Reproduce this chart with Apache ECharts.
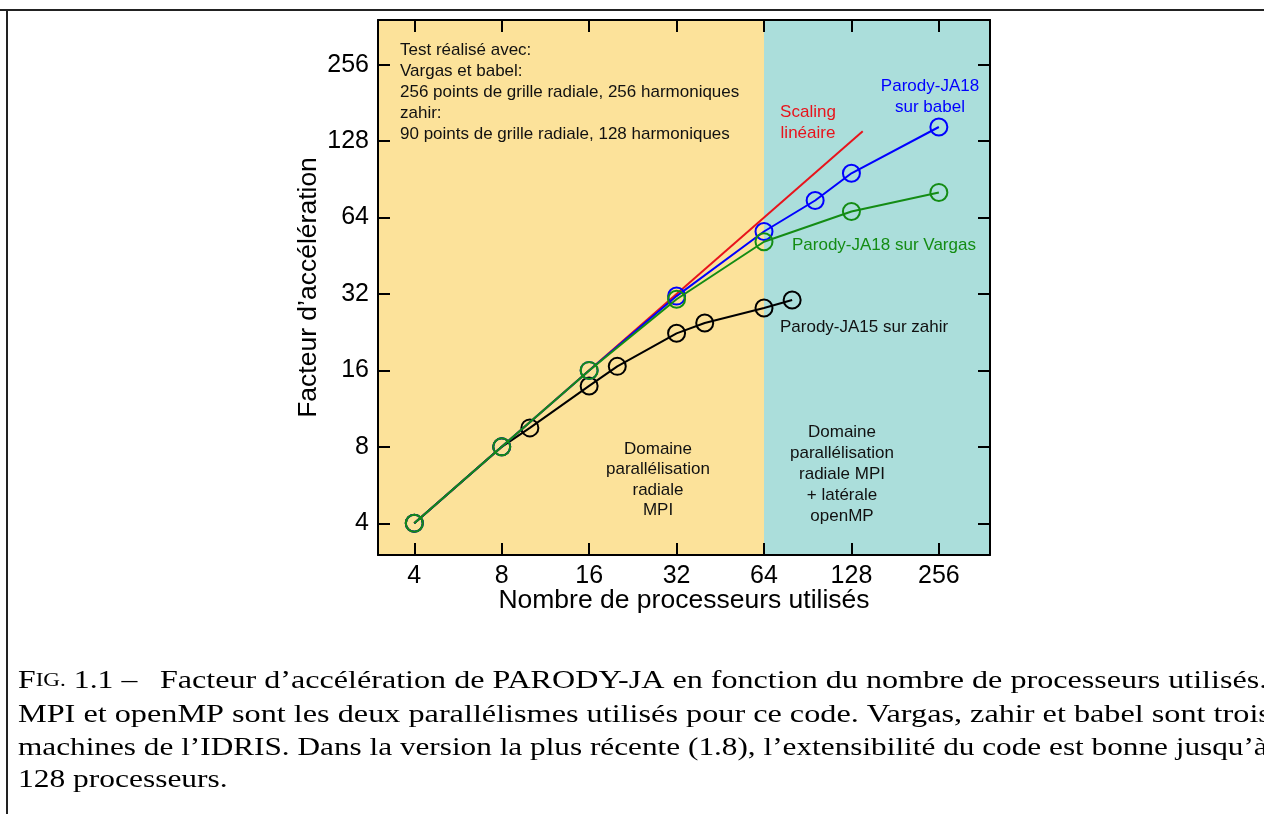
<!DOCTYPE html>
<html>
<head>
<meta charset="utf-8">
<script src="https://cdn.jsdelivr.net/npm/echarts@6/dist/echarts.min.js"></script>
<style>
html,body{margin:0;padding:0;background:#fff;}
#chart{width:1264px;height:814px;}
</style>
</head>
<body>
<div id="chart"></div>
<script>
// ---- data ----
const xTickLabels = [4, 8, 16, 32, 64, 128, 256];
const yTickLabels = [4, 8, 16, 32, 64, 128, 256];
const linearX = [4, 140];
const linearY = [4, 140];
const babelX = [4, 8, 16, 32, 64, 96, 128, 256];
const babelY = [4, 8, 16, 31.4, 56.4, 74.7, 95.6, 145.5];
const vargasX = [4, 8, 16, 32, 64, 128, 256];
const vargasY = [4, 8, 16, 30.5, 51.4, 67.6, 80.4];
const zahirX = [4, 8, 10, 16, 20, 32, 40, 64, 80];
const zahirY = [4, 8, 9.5, 13.9, 16.6, 22.4, 24.6, 28.2, 30.3];
const domainBreaks = [3, 64, 384];

const zip = (xs, ys) => xs.map((x, i) => [x, ys[i]]);
const SANS = 'Liberation Sans, Arial, Helvetica, sans-serif';
const SERIF = 'Liberation Serif, Times New Roman, serif';
const YELLOW = '#fce29a';
const TEAL = '#abdedb';
const RED = '#e8141c';
const BLUE = '#0000ff';
const GREEN = '#148c14';

const chart = echarts.init(document.getElementById('chart'), null, {renderer: 'canvas'});

function mkX(pos, labels) {
  return {
    type: 'log', logBase: 2, min: domainBreaks[0], max: domainBreaks[2], splitNumber: 7,
    position: pos, z: 10,
    axisLine: {show: true, onZero: false, lineStyle: {color: '#000', width: 2}},
    axisTick: {show: true, inside: true, length: 12, lineStyle: {color: '#000', width: 2}},
    axisLabel: {show: labels, color: '#000', fontSize: 25, fontFamily: SANS, margin: 9,
      showMinLabel: false, showMaxLabel: false, formatter: v => String(Math.round(v))},
    splitLine: {show: false},
    name: labels ? 'Nombre de processeurs utilisés' : '',
    nameLocation: 'middle', nameGap: 32, nameMoveOverlap: false,
    nameTextStyle: {color: '#000', fontSize: 26.5, fontFamily: SANS}
  };
}
function mkY(pos, labels) {
  return {
    type: 'log', logBase: 2, min: domainBreaks[0], max: domainBreaks[2], splitNumber: 7,
    position: pos, z: 10,
    axisLine: {show: true, onZero: false, lineStyle: {color: '#000', width: 2}},
    axisTick: {show: true, inside: true, length: 12, lineStyle: {color: '#000', width: 2}},
    axisLabel: {show: labels, color: '#000', fontSize: 25, fontFamily: SANS, margin: 9,
      showMinLabel: false, showMaxLabel: false, formatter: v => String(Math.round(v))},
    splitLine: {show: false},
    name: labels ? 'Facteur d\u2019accélération' : '',
    nameLocation: 'middle', nameGap: 56,
    nameTextStyle: {color: '#000', fontSize: 26.5, fontFamily: SANS}
  };
}

function lineSeries(name, data, color, symbol, z) {
  return {
    name, type: 'line', data, xAxisIndex: 0, yAxisIndex: 0, z,
    symbol: symbol ? 'circle' : 'none', symbolSize: 17,
    itemStyle: {color: 'rgba(0,0,0,0)', borderColor: color, borderWidth: 2},
    lineStyle: {color, width: 2}, animation: false, silent: true
  };
}

const lines = (arr) => arr.join('\n');
const F = '17px ' + SANS;
const CF = '26px ' + SERIF;
function capLine(x, y, sx, text) {
  return {type: 'text', x, y, scaleX: sx, z: 50, style: {text, fill: '#000', font: CF, textVerticalAlign: 'middle', textAlign: 'left'}};
}

const option = {
  backgroundColor: '#fff',
  animation: false,
  grid: {left: 378, right: 274, top: 20, bottom: 259, containLabel: false},
  xAxis: [mkX('bottom', true), mkX('top', false)],
  yAxis: [mkY('left', true), mkY('right', false)],
  series: [
    {
      type: 'line', data: [], xAxisIndex: 0, yAxisIndex: 0, z: 1, silent: true,
      markArea: {silent: true, data: [
        [{xAxis: domainBreaks[0], itemStyle: {color: YELLOW}}, {xAxis: domainBreaks[1]}],
        [{xAxis: domainBreaks[1], itemStyle: {color: TEAL}}, {xAxis: domainBreaks[2]}]
      ]}
    },
    lineSeries('Scaling linéaire', zip(linearX, linearY), RED, false, 3),
    lineSeries('Parody-JA15 sur zahir', zip(zahirX, zahirY), '#000', true, 4),
    lineSeries('Parody-JA18 sur babel', zip(babelX, babelY), BLUE, true, 5),
    lineSeries('Parody-JA18 sur Vargas', zip(vargasX, vargasY), GREEN, true, 6)
  ],
  graphic: [
    {type: 'line', z: 60, shape: {x1: 0, y1: 10, x2: 1264, y2: 10}, style: {stroke: '#222', lineWidth: 2}},
    {type: 'line', z: 60, shape: {x1: 7, y1: 10, x2: 7, y2: 814}, style: {stroke: '#222', lineWidth: 2}},
    {type: 'text', x: 400, y: 40, z: 50, style: {
      text: lines(['Test réalisé avec:', 'Vargas et babel:', '256 points de grille radiale, 256 harmoniques', 'zahir:', '90 points de grille radiale, 128 harmoniques']),
      fill: '#111', font: F, textAlign: 'left', textVerticalAlign: 'top', lineHeight: 21}},
    {type: 'text', x: 808, y: 102, z: 50, style: {text: 'Scaling\nlinéaire', fill: RED, font: F, textAlign: 'center', textVerticalAlign: 'top', lineHeight: 21}},
    {type: 'text', x: 930, y: 76, z: 50, style: {text: 'Parody-JA18\nsur babel', fill: BLUE, font: F, textAlign: 'center', textVerticalAlign: 'top', lineHeight: 21}},
    {type: 'text', x: 792, y: 235, z: 50, style: {text: 'Parody-JA18 sur Vargas', fill: GREEN, font: F, textAlign: 'left', textVerticalAlign: 'top', lineHeight: 21}},
    {type: 'text', x: 780, y: 317, z: 50, style: {text: 'Parody-JA15 sur zahir', fill: '#111', font: F, textAlign: 'left', textVerticalAlign: 'top', lineHeight: 21}},
    {type: 'text', x: 658, y: 439, z: 50, style: {text: 'Domaine\nparallélisation\nradiale\nMPI', fill: '#111', font: F, textAlign: 'center', textVerticalAlign: 'top', lineHeight: 20.5}},
    {type: 'text', x: 842, y: 422, z: 50, style: {text: 'Domaine\nparallélisation\nradiale MPI\n+ latérale\nopenMP', fill: '#111', font: F, textAlign: 'center', textVerticalAlign: 'top', lineHeight: 21}},
    // caption (horizontally stretched serif, like the original)
    {type: 'text', x: 18, y: 681, scaleX: 1.22, z: 50, style: {
      text: '{a|F}{b|IG.}{a| 1.1 –}',
      textVerticalAlign: 'middle', textAlign: 'left',
      rich: {a: {fontFamily: SERIF, fontSize: 26, color: '#000'}, b: {fontFamily: SERIF, fontSize: 19, color: '#000'}}}},
    capLine(160, 681, 1.235, 'Facteur d\u2019accélération de PARODY-JA en fonction du nombre de processeurs utilisés.'),
    capLine(18, 715, 1.24, 'MPI et openMP sont les deux parallélismes utilisés pour ce code. Vargas, zahir et babel sont trois'),
    capLine(18, 748, 1.202, 'machines de l\u2019IDRIS. Dans la version la plus récente (1.8), l\u2019extensibilité du code est bonne jusqu\u2019à'),
    capLine(18, 780, 1.21, '128 processeurs.')
  ]
};
chart.setOption(option);
</script>
</body>
</html>
